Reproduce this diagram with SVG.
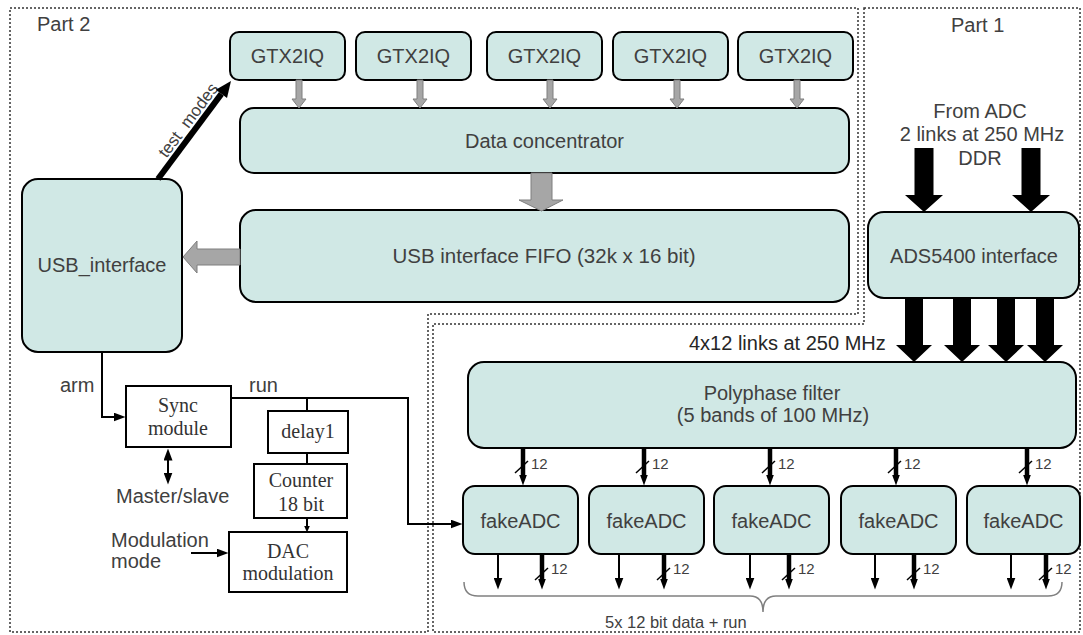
<svg xmlns="http://www.w3.org/2000/svg" width="1083" height="635" viewBox="0 0 1083 635">
<style>
.bg{fill:#ffffff}
.part{fill:none;stroke:#333;stroke-width:1.5;stroke-dasharray:2 2}
.blk{fill:#d0e8e5;stroke:#000;stroke-width:2}
.sblk{fill:#ffffff;stroke:#000;stroke-width:2}
.t{font-family:"Liberation Sans",Arial,sans-serif;font-size:20px;fill:#404040}
.tc{text-anchor:middle}
.ts{font-family:"Liberation Serif","Times New Roman",serif;font-size:20px;fill:#333;text-anchor:middle}
.n12{font-family:"Liberation Sans",Arial,sans-serif;font-size:15px;fill:#404040}
.garr{fill:#a6a6a6;stroke:#7f7f7f;stroke-width:1}
.barr{fill:#000}
.w{fill:none;stroke:#000;stroke-width:2}
.bus{fill:none;stroke:#000;stroke-width:4.5}
.sl{stroke:#000;stroke-width:1.5}
.brace{fill:none;stroke:#808080;stroke-width:1.5}
</style>
<defs>
<marker id="ahs" markerUnits="userSpaceOnUse" markerWidth="12" markerHeight="9" refX="0.5" refY="4.5" orient="auto"><path d="M0,0 L12,4.5 L0,9 z" fill="#000"/></marker>
<marker id="ahsr" markerUnits="userSpaceOnUse" markerWidth="12" markerHeight="9" refX="11.5" refY="4.5" orient="auto"><path d="M12,0 L0,4.5 L12,9 z" fill="#000"/></marker>
<marker id="ah12" markerUnits="userSpaceOnUse" markerWidth="11" markerHeight="8" refX="0.5" refY="4" orient="auto"><path d="M0,0 L11,4 L0,8 z" fill="#000"/></marker>
<marker id="aht" markerUnits="userSpaceOnUse" markerWidth="7" markerHeight="6" refX="0.5" refY="3" orient="auto"><path d="M0,0 L7,3 L0,6 z" fill="#000"/></marker>
</defs>
<rect class="bg" x="0" y="0" width="1083" height="635"/>

<g id="part2">
<path class="part" d="M10,8 H858 V314 H428 V632 H10 Z"/>
<text class="t" x="37" y="31">Part 2</text>
</g>
<g id="part1">
<path class="part" d="M864,8 H1080 V632 H433 V324 H864 Z"/>
<text class="t" x="951" y="32">Part 1</text>
</g>

<g id="gtx1"><rect class="blk" x="230" y="32" width="115" height="48" rx="9"/><text class="t tc" x="287.5" y="63">GTX2IQ</text></g>
<g id="gtx2"><rect class="blk" x="356" y="32" width="115" height="48" rx="9"/><text class="t tc" x="413.5" y="63">GTX2IQ</text></g>
<g id="gtx3"><rect class="blk" x="487" y="32" width="115" height="48" rx="9"/><text class="t tc" x="544.5" y="63">GTX2IQ</text></g>
<g id="gtx4"><rect class="blk" x="613" y="32" width="115" height="48" rx="9"/><text class="t tc" x="670.5" y="63">GTX2IQ</text></g>
<g id="gtx5"><rect class="blk" x="738" y="32" width="115" height="48" rx="9"/><text class="t tc" x="795.5" y="63">GTX2IQ</text></g>

<g id="concentrator"><rect class="blk" x="240" y="108" width="609" height="65" rx="14"/><text class="t tc" x="544.5" y="148">Data concentrator</text></g>
<g id="fifo"><rect class="blk" x="240" y="210" width="609" height="92" rx="16"/><text class="t tc" x="544" y="263" style="font-size:20.5px">USB interface FIFO (32k x 16 bit)</text></g>
<g id="usb"><rect class="blk" x="22" y="179" width="160" height="173" rx="16"/><text class="t tc" x="102" y="272">USB_interface</text></g>
<g id="ads"><rect class="blk" x="868" y="212" width="211" height="86" rx="16"/><text class="t tc" x="974" y="263">ADS5400 interface</text></g>
<g id="poly"><rect class="blk" x="468" y="362" width="608" height="86" rx="16"/><text class="t tc" x="772" y="400">Polyphase filter</text><text class="t tc" x="773" y="422">(5 bands of 100 MHz)</text></g>

<g id="fake1"><rect class="blk" x="463" y="486" width="115" height="68" rx="12"/><text class="t tc" x="520.5" y="528">fakeADC</text></g>
<g id="fake2"><rect class="blk" x="589" y="486" width="115" height="68" rx="12"/><text class="t tc" x="646.5" y="528">fakeADC</text></g>
<g id="fake3"><rect class="blk" x="714" y="486" width="115" height="68" rx="12"/><text class="t tc" x="771.5" y="528">fakeADC</text></g>
<g id="fake4"><rect class="blk" x="841" y="486" width="115" height="68" rx="12"/><text class="t tc" x="898.5" y="528">fakeADC</text></g>
<g id="fake5"><rect class="blk" x="967" y="486" width="113" height="68" rx="12"/><text class="t tc" x="1023.5" y="528">fakeADC</text></g>

<g id="sync"><rect class="sblk" x="126" y="386" width="105" height="61"/><text class="ts" x="178" y="412">Sync</text><text class="ts" x="178" y="435">module</text></g>
<g id="delay1"><rect class="sblk" x="268" y="411" width="80" height="42"/><text class="ts" x="308" y="438">delay1</text></g>
<g id="counter"><rect class="sblk" x="254" y="464" width="93" height="54"/><text class="ts" x="301" y="487">Counter</text><text class="ts" x="301" y="511">18 bit</text></g>
<g id="dac"><rect class="sblk" x="229" y="532" width="118" height="60"/><text class="ts" x="288" y="558">DAC</text><text class="ts" x="288" y="580">modulation</text></g>

<g id="labels">
<text class="t tc" x="980" y="118">From ADC</text>
<text class="t tc" x="982" y="141">2 links at 250 MHz</text>
<text class="t tc" x="980" y="165">DDR</text>
<text class="t" x="689" y="350" style="fill:#262626">4x12 links at 250 MHz</text>
<text class="t" x="60" y="392">arm</text>
<text class="t" x="249" y="392">run</text>
<text class="t" x="116" y="503">Master/slave</text>
<text class="t" x="111" y="547">Modulation</text>
<text class="t" x="111" y="568">mode</text>
<text class="t" x="605" y="628" style="font-size:16.5px">5x 12 bit data + run</text>
<text class="t tc" transform="translate(192.8,123.6) rotate(-53.3)" x="0" y="0" style="font-size:17px">test_modes</text>
</g>

<g id="connectors">
<path class="garr" d="M296,80 H302 V99 H306 L299,108 L292,99 H296 Z"/>
<path class="garr" d="M417,80 H423 V99 H427 L420,108 L413,99 H417 Z"/>
<path class="garr" d="M547,80 H553 V99 H557 L550,108 L543,99 H547 Z"/>
<path class="garr" d="M674,80 H680 V99 H684 L677,108 L670,99 H674 Z"/>
<path class="garr" d="M794,80 H800 V99 H804 L797,108 L790,99 H794 Z"/>
<path class="garr" d="M531,173 H552 V200 H563 L541.5,211 L519,200 H531 Z"/>
<path class="garr" d="M240,249 V265 H197 V273 L183,257 L197,241 V249 Z"/>
<line x1="158" y1="179" x2="221.4" y2="93.9" stroke="#000" stroke-width="6"/>
<path class="barr" d="M231,81 L227,98.1 L215.8,89.7 Z"/>
<path class="barr" d="M914.5,148 H933.5 V195 H943 L924,212 L905,195 H914.5 Z"/>
<path class="barr" d="M1021.5,148 H1040.5 V195 H1050 L1031,212 L1012,195 H1021.5 Z"/>
<path class="barr" d="M905,298 H923 V345 H932 L914,362 L896,345 H905 Z"/>
<path class="barr" d="M953,298 H971 V345 H980 L962,362 L944,345 H953 Z"/>
<path class="barr" d="M997,298 H1015 V345 H1024 L1006,362 L988,345 H997 Z"/>
<path class="barr" d="M1036,298 H1054 V345 H1063 L1045,362 L1027,345 H1036 Z"/>
<line class="bus" x1="523" y1="448" x2="523" y2="475" marker-end="url(#ah12)"/>
<line class="sl" x1="515" y1="473" x2="528" y2="461"/>
<text class="n12" x="531" y="469">12</text>
<line class="bus" x1="644" y1="448" x2="644" y2="475" marker-end="url(#ah12)"/>
<line class="sl" x1="636" y1="473" x2="649" y2="461"/>
<text class="n12" x="652" y="469">12</text>
<line class="bus" x1="770" y1="448" x2="770" y2="475" marker-end="url(#ah12)"/>
<line class="sl" x1="762" y1="473" x2="775" y2="461"/>
<text class="n12" x="778" y="469">12</text>
<line class="bus" x1="896" y1="448" x2="896" y2="475" marker-end="url(#ah12)"/>
<line class="sl" x1="888" y1="473" x2="901" y2="461"/>
<text class="n12" x="904" y="469">12</text>
<line class="bus" x1="1027" y1="448" x2="1027" y2="475" marker-end="url(#ah12)"/>
<line class="sl" x1="1019" y1="473" x2="1032" y2="461"/>
<text class="n12" x="1035" y="469">12</text>
<line class="w" x1="498" y1="554" x2="498" y2="578" marker-end="url(#ahs)"/>
<line class="bus" x1="542" y1="554" x2="542" y2="579" marker-end="url(#ah12)"/>
<line class="sl" x1="535" y1="580" x2="548" y2="568"/>
<text class="n12" x="551" y="574">12</text>
<line class="w" x1="619" y1="554" x2="619" y2="578" marker-end="url(#ahs)"/>
<line class="bus" x1="664" y1="554" x2="664" y2="579" marker-end="url(#ah12)"/>
<line class="sl" x1="657" y1="580" x2="670" y2="568"/>
<text class="n12" x="673" y="574">12</text>
<line class="w" x1="750" y1="554" x2="750" y2="578" marker-end="url(#ahs)"/>
<line class="bus" x1="789" y1="554" x2="789" y2="579" marker-end="url(#ah12)"/>
<line class="sl" x1="782" y1="580" x2="795" y2="568"/>
<text class="n12" x="798" y="574">12</text>
<line class="w" x1="875" y1="554" x2="875" y2="578" marker-end="url(#ahs)"/>
<line class="bus" x1="914" y1="554" x2="914" y2="579" marker-end="url(#ah12)"/>
<line class="sl" x1="907" y1="580" x2="920" y2="568"/>
<text class="n12" x="923" y="574">12</text>
<line class="w" x1="1011" y1="554" x2="1011" y2="578" marker-end="url(#ahs)"/>
<line class="bus" x1="1046" y1="554" x2="1046" y2="579" marker-end="url(#ah12)"/>
<line class="sl" x1="1039" y1="580" x2="1052" y2="568"/>
<text class="n12" x="1055" y="574">12</text>
<path class="brace" d="M464,582 Q464,596 478,596 H750 Q763,596 763,612 Q763,596 776,596 H1048 Q1062,596 1062,582"/>
<polyline class="w" points="102,352 102,417 114,417" marker-end="url(#ahs)"/>
<line class="w" x1="168" y1="460" x2="168" y2="473" marker-start="url(#ahsr)" marker-end="url(#ahs)"/>
<polyline class="w" points="231,398 408,398 408,524 451,524" marker-end="url(#ahs)"/>
<line class="w" x1="307" y1="398" x2="307" y2="411"/>
<line class="w" x1="307" y1="453" x2="307" y2="464"/>
<line class="w" x1="307" y1="518" x2="307" y2="526" marker-end="url(#aht)"/>
<line class="w" x1="191" y1="553" x2="217" y2="553" marker-end="url(#ahs)"/>
</g>
</svg>
